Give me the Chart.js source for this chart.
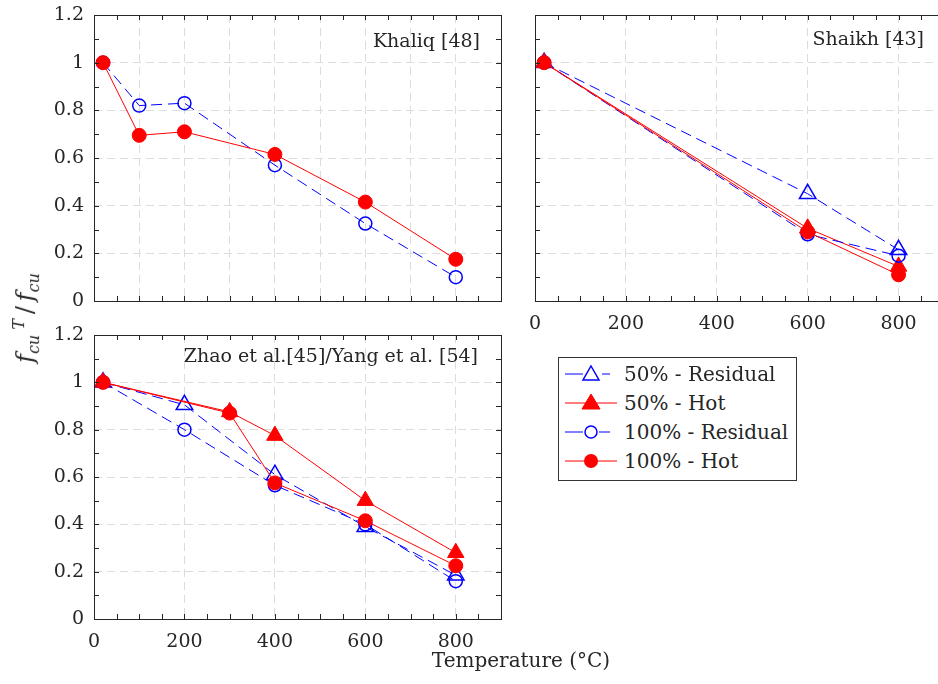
<!DOCTYPE html>
<html>
<head>
<meta charset="utf-8">
<script src="https://cdn.jsdelivr.net/npm/chart.js@4"></script>
<style>
  html, body { margin: 0; padding: 0; overflow: hidden; }
  body { position: relative; width: 938px; height: 684px; background: #fff;
         font-family: "DejaVu Serif", serif; color: #262626; }
  canvas { position: absolute; }
  .note { position: absolute; font-size: 19px; line-height: 20px; white-space: nowrap; z-index: 2; }
  #ylabel { position: absolute; left: 26px; top: 318px; font-size: 24px; white-space: nowrap;
            transform: translate(-50%, -50%) rotate(-90deg); z-index: 2; }
  #ylabel sub, #ylabel sup { font-size: 16px; }
  #legend { position: absolute; left: 558px; top: 357px; width: 237px; height: 122px;
            border: 1px solid #333; background: #fff; z-index: 2; }
  .row { position: absolute; left: 6px; height: 22px; font-size: 20px; line-height: 22px; white-space: nowrap; }
  .row svg { position: absolute; left: 0; top: 0; }
  .row span { position: absolute; left: 59px; top: 0; }
</style>
</head>
<body>
<canvas id="khaliq" width="520" height="330" style="left:0;top:0"></canvas>
<canvas id="shaikh" width="460" height="335" style="left:500px;top:0"></canvas>
<canvas id="zhao" width="520" height="364" style="left:0;top:320px"></canvas>

<div class="note" style="right:458px;top:30px">Khaliq [48]</div>
<div class="note" style="right:14px;top:28px">Shaikh [43]</div>
<div class="note" style="right:460px;top:345px">Zhao et al.[45]/Yang et al. [54]</div>
<div class="note" style="left:521px;top:650px;font-size:20px;transform:translateX(-50%)">Temperature (°C)</div>
<div id="ylabel"><i>f</i><sub><i>cu</i></sub><sup><i>&nbsp;T</i></sup>&thinsp;/&thinsp;<i>f</i><sub><i>cu</i></sub></div>

<div id="legend">
  <div class="row" style="top:5px">
    <svg width="56" height="22"><line x1="0" y1="11" x2="18" y2="11" stroke="#00f" stroke-width="1"/><line x1="37" y1="11" x2="45" y2="11" stroke="#00f" stroke-width="1"/><polygon points="26,3 34,17 18,17" fill="none" stroke="#00f" stroke-width="1.5"/></svg>
    <span>50% - Residual</span>
  </div>
  <div class="row" style="top:34px">
    <svg width="56" height="22"><line x1="0" y1="11" x2="52" y2="11" stroke="#f00" stroke-width="1"/><polygon points="26,2 35,17 17,17" fill="#f00" stroke="#f00" stroke-width="1"/></svg>
    <span>50% - Hot</span>
  </div>
  <div class="row" style="top:63px">
    <svg width="56" height="22"><line x1="0" y1="11" x2="18" y2="11" stroke="#00f" stroke-width="1"/><line x1="34" y1="11" x2="45" y2="11" stroke="#00f" stroke-width="1"/><circle cx="26" cy="11" r="6" fill="none" stroke="#00f" stroke-width="1.5"/></svg>
    <span>100% - Residual</span>
  </div>
  <div class="row" style="top:92px">
    <svg width="56" height="22"><line x1="0" y1="11" x2="52" y2="11" stroke="#f00" stroke-width="1"/><circle cx="26" cy="11" r="7" fill="#f00"/></svg>
    <span>100% - Hot</span>
  </div>
</div>

<script>
// Khaliq [48]
const khaliqTemp = [20, 100, 200, 400, 600, 800];
const khaliqResidual100 = [1.0, 0.82, 0.83, 0.57, 0.325, 0.1];
const khaliqHot100 = [1.0, 0.695, 0.71, 0.615, 0.415, 0.175];

// Shaikh [43]
const shaikhTemp = [20, 600, 800];
const shaikhResidual50 = [1.0, 0.45, 0.215];
const shaikhHot50 = [1.0, 0.305, 0.145];
const shaikhResidual100 = [1.0, 0.28, 0.19];
const shaikhHot100 = [1.0, 0.29, 0.11];

// Zhao et al. [45] / Yang et al. [54]
const zhaoResidualTemp = [20, 200, 400, 600, 800];
const zhaoResidual50 = [1.0, 0.905, 0.61, 0.39, 0.185];
const zhaoResidual100 = [1.0, 0.8, 0.565, 0.4, 0.16];
const zhaoHotTemp = [20, 300, 400, 600, 800];
const zhaoHot50 = [1.0, 0.875, 0.775, 0.5, 0.28];
const zhaoHot100 = [1.0, 0.87, 0.575, 0.415, 0.225];

const xMax = 900;
const yMax = 1.2;
const yStep = 0.2;
const xMinorStep = 50;
const yMinorStep = 0.1;

const BLUE = "#0000ff";
const RED = "#ff0000";
const INK = "#262626";
const GRID = "#dcdcdc";
const tickFont = { family: "DejaVu Serif", size: 19 };

function points(xs, ys) {
  return xs.map((x, i) => ({ x, y: ys[i] }));
}

function residual(label, xs, ys, style) {
  return {
    label,
    data: points(xs, ys),
    borderColor: BLUE,
    borderWidth: 1,
    borderDash: [11, 6],
    pointStyle: style,
    pointRadius: style === "triangle" ? 9.5 : 6.5,
    pointBorderColor: BLUE,
    pointBackgroundColor: "rgba(0,0,0,0)",
    pointBorderWidth: 1.5,
  };
}

function hot(label, xs, ys, style) {
  return {
    label,
    data: points(xs, ys),
    borderColor: RED,
    borderWidth: 1,
    pointStyle: style,
    pointRadius: style === "triangle" ? 9.5 : 7,
    pointBorderColor: RED,
    pointBackgroundColor: RED,
    pointBorderWidth: 1,
  };
}

// box round the plot area with MATLAB-like inward ticks
const frame = {
  id: "frame",
  afterDraw(chart) {
    const { ctx, chartArea: a, scales } = chart;
    const x = scales.x, y = scales.y;
    ctx.save();
    ctx.strokeStyle = INK;
    ctx.lineWidth = 1;
    ctx.beginPath();
    for (let v = 0; v <= xMax + 1e-6; v += xMinorStep) {
      const px = Math.round(x.getPixelForValue(v)) + 0.5;
      ctx.moveTo(px, a.bottom); ctx.lineTo(px, a.bottom - 5);
      ctx.moveTo(px, a.top); ctx.lineTo(px, a.top + 5);
    }
    for (let v = 0; v <= yMax + 1e-6; v += yMinorStep) {
      const py = Math.round(y.getPixelForValue(v)) + 0.5;
      ctx.moveTo(a.left, py); ctx.lineTo(a.left + 5, py);
      ctx.moveTo(a.right, py); ctx.lineTo(a.right - 5, py);
    }
    ctx.stroke();
    ctx.strokeRect(Math.round(a.left) + 0.5, Math.round(a.top) + 0.5,
      Math.round(a.right - a.left), Math.round(a.bottom - a.top));
    ctx.restore();
  },
};

function makePanel(id, datasets, cfg) {
  const canvas = document.getElementById(id);
  const W = canvas.width, H = canvas.height;
  const [left, top, right, bottom] = cfg.area;
  return new Chart(canvas, {
    type: "line",
    data: { datasets },
    options: {
      responsive: false,
      animation: false,
      events: [],
      layout: { padding: { left: 0, top, right: W - right, bottom: 0 } },
      plugins: { legend: { display: false }, tooltip: { enabled: false } },
      elements: { line: { tension: 0, fill: false } },
      scales: {
        x: {
          type: "linear",
          min: 0,
          max: xMax,
          grid: { color: GRID, lineWidth: 1, drawTicks: false },
          border: { display: false, dash: [8, 5] },
          ticks: {
            display: cfg.xLabels,
            stepSize: cfg.xGrid,
            includeBounds: false,
            padding: 12,
            color: INK,
            font: tickFont,
          },
          afterFit: (s) => { s.height = H - bottom; s.paddingLeft = 0; s.paddingRight = 0; },
        },
        y: {
          min: 0,
          max: yMax,
          grid: { color: GRID, lineWidth: 1, drawTicks: false },
          border: { display: false, dash: [8, 5] },
          ticks: {
            display: cfg.yLabels,
            stepSize: yStep,
            padding: 10,
            color: INK,
            font: tickFont,
            callback: (v) => String(+v.toFixed(1)),
          },
          afterFit: (s) => { s.width = left; s.paddingTop = 0; s.paddingBottom = 0; },
        },
      },
    },
    plugins: [frame],
  });
}

// first dataset is drawn on top
makePanel("khaliq", [
  hot("100% - Hot", khaliqTemp, khaliqHot100, "circle"),
  residual("100% - Residual", khaliqTemp, khaliqResidual100, "circle"),
], { area: [94, 15, 501, 301], xGrid: 100, xLabels: false, yLabels: true });

makePanel("shaikh", [
  hot("100% - Hot", shaikhTemp, shaikhHot100, "circle"),
  residual("100% - Residual", shaikhTemp, shaikhResidual100, "circle"),
  hot("50% - Hot", shaikhTemp, shaikhHot50, "triangle"),
  residual("50% - Residual", shaikhTemp, shaikhResidual50, "triangle"),
], { area: [35, 15, 444, 301], xGrid: 200, xLabels: true, yLabels: false });

makePanel("zhao", [
  hot("100% - Hot", zhaoHotTemp, zhaoHot100, "circle"),
  residual("100% - Residual", zhaoResidualTemp, zhaoResidual100, "circle"),
  hot("50% - Hot", zhaoHotTemp, zhaoHot50, "triangle"),
  residual("50% - Residual", zhaoResidualTemp, zhaoResidual50, "triangle"),
], { area: [94, 15, 501, 299], xGrid: 200, xLabels: true, yLabels: true });
</script>
</body>
</html>
